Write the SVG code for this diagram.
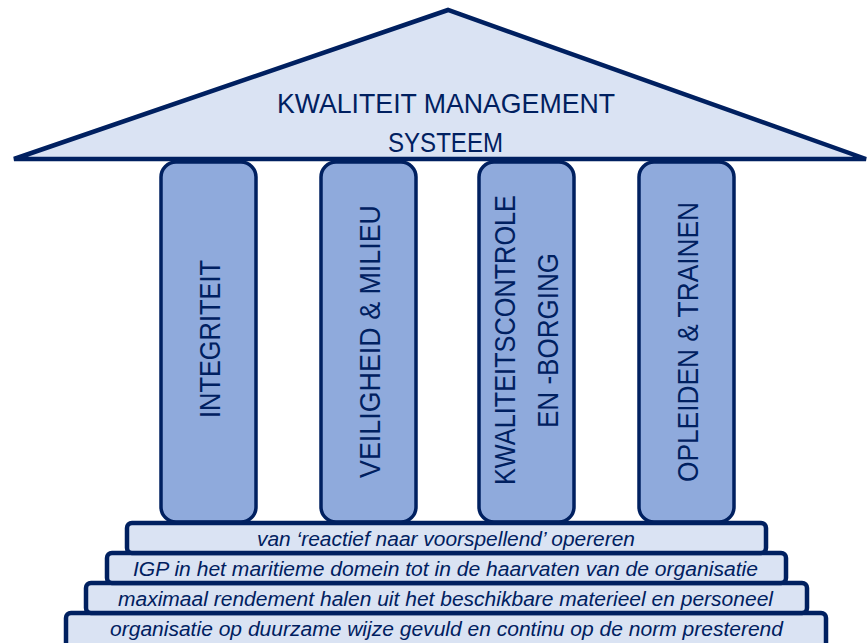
<svg xmlns="http://www.w3.org/2000/svg" width="867" height="643" viewBox="0 0 867 643">
<style>
.roof{fill:#DAE3F3;stroke:#002060;stroke-width:4.5;stroke-linejoin:miter}
.pillar{fill:#8FAADC;stroke:#002060;stroke-width:3.5}
.step{fill:#DAE3F3;stroke:#002060;stroke-width:4.5}
.t{font-family:"Liberation Sans",Arial,sans-serif;fill:#002060;}
.cap{font-size:28px;}
.pc{font-size:30px;}
.st{font-size:20.5px;font-style:italic;text-anchor:start}
</style>
<rect width="867" height="643" fill="#FFFFFF"/>
<g id="roof">
<polygon class="roof" points="448,10 14,159 866,159"/>
<text class="t cap" x="277" y="113" textLength="338" lengthAdjust="spacingAndGlyphs">KWALITEIT MANAGEMENT</text>
<text class="t cap" x="388" y="152" textLength="115" lengthAdjust="spacingAndGlyphs">SYSTEEM</text>
</g>
<g id="pillar-integriteit">
<rect class="pillar" x="161" y="162" width="95" height="360" rx="15"/>
<text class="t pc" transform="translate(220,418) rotate(-90)" textLength="158" lengthAdjust="spacingAndGlyphs">INTEGRITEIT</text>
</g>
<g id="pillar-veiligheid">
<rect class="pillar" x="321" y="162" width="95" height="360" rx="15"/>
<text class="t pc" transform="translate(380,478) rotate(-90)" textLength="273" lengthAdjust="spacingAndGlyphs">VEILIGHEID &amp; MILIEU</text>
</g>
<g id="pillar-kwaliteitscontrole">
<rect class="pillar" x="479" y="162" width="95" height="360" rx="15"/>
<text class="t pc" transform="translate(515,485) rotate(-90)" textLength="290" lengthAdjust="spacingAndGlyphs">KWALITEITSCONTROLE</text>
<text class="t pc" transform="translate(558,428) rotate(-90)" textLength="175" lengthAdjust="spacingAndGlyphs">EN -BORGING</text>
</g>
<g id="pillar-opleiden">
<rect class="pillar" x="639" y="162" width="95" height="360" rx="15"/>
<text class="t pc" transform="translate(698,482) rotate(-90)" textLength="280" lengthAdjust="spacingAndGlyphs">OPLEIDEN &amp; TRAINEN</text>
</g>
<g id="step-4">
<rect class="step" x="66" y="613" width="760" height="50" rx="5"/>
<text class="t st" x="110" y="636" textLength="673" lengthAdjust="spacingAndGlyphs">organisatie op duurzame wijze gevuld en continu op de norm presterend</text>
</g>
<g id="step-3">
<rect class="step" x="86" y="583" width="721" height="30" rx="5"/>
<text class="t st" x="118" y="606" textLength="655" lengthAdjust="spacingAndGlyphs">maximaal rendement halen uit het beschikbare materieel en personeel</text>
</g>
<g id="step-2">
<rect class="step" x="107" y="553" width="679" height="30" rx="5"/>
<text class="t st" x="133" y="576" textLength="625" lengthAdjust="spacingAndGlyphs">IGP in het maritieme domein tot in de haarvaten van de organisatie</text>
</g>
<g id="step-1">
<rect class="step" x="127" y="523" width="639" height="30" rx="5"/>
<text class="t st" x="257" y="546" textLength="378" lengthAdjust="spacingAndGlyphs">van ‘reactief naar voorspellend’ opereren</text>
</g>
<g id="connectors"></g>
</svg>
